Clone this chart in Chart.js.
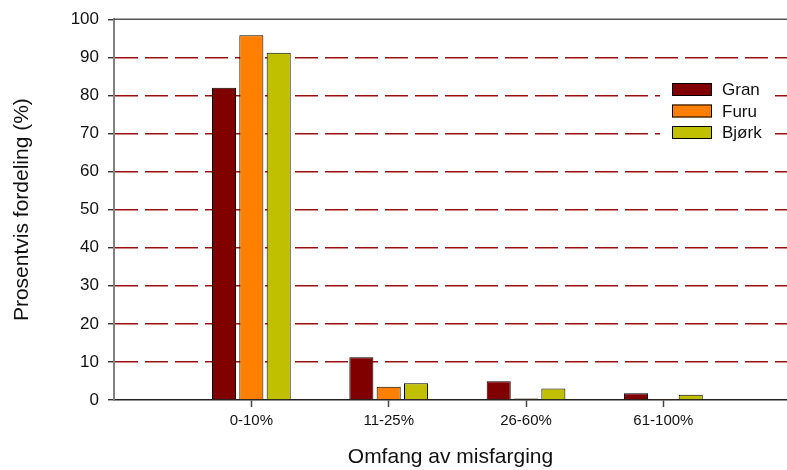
<!DOCTYPE html>
<html>
<head>
<meta charset="utf-8">
<script src="https://cdn.jsdelivr.net/npm/chart.js@4"></script>
<style>
html,body{margin:0;padding:0;background:#fff;overflow:hidden;}
canvas{display:block;}
</style>
</head>
<body>
<canvas id="c" width="787" height="470"></canvas>
<script>
const categories = ['0-10%', '11-25%', '26-60%', '61-100%'];
const seriesNames = ['Gran', 'Furu', 'Bjørk'];
const gran = [82, 11.2, 4.9, 1.8];
const furu = [95.8, 3.5, 0.4, 0.1];
const bjork = [91.2, 4.4, 3.0, 1.4];
const yTicks = [0, 10, 20, 30, 40, 50, 60, 70, 80, 90, 100];
const colors = ['#800000', '#FF8000', '#C0C000'];

const FONT = '"Liberation Sans", Arial, sans-serif';

function toPoints(arr) {
  return arr.map((v, i) => ({ x: i + 1, y: v }));
}

const datasets = [gran, furu, bjork].map((arr, k) => ({
  label: seriesNames[k],
  data: toPoints(arr),
  backgroundColor: colors[k],
  borderColor: '#000',
  borderWidth: 1,
  categoryPercentage: 0.597,
  barPercentage: 0.88
}));

const extras = {
  id: 'extras',
  afterDraw(chart) {
    const ctx = chart.ctx;
    const a = chart.chartArea;
    ctx.save();
    // top frame line
    ctx.strokeStyle = '#555';
    ctx.lineWidth = 1.5;
    ctx.beginPath();
    ctx.moveTo(a.left, a.top);
    ctx.lineTo(a.right, a.top);
    ctx.stroke();
    // legend
    const x0 = 672, y0 = 83, rowH = 21.5, bw = 40, bh = 13;
    ctx.fillStyle = '#fff';
    ctx.fillRect(660, y0 - 6, 113, rowH * 3 + 4);
    ctx.font = '17px ' + FONT;
    ctx.textBaseline = 'middle';
    ctx.textAlign = 'left';
    chart.data.datasets.forEach((ds, i) => {
      const y = y0 + i * rowH;
      ctx.fillStyle = ds.backgroundColor;
      ctx.fillRect(x0, y, bw, bh);
      ctx.strokeStyle = '#000';
      ctx.lineWidth = 1;
      ctx.strokeRect(x0 + 0.5, y + 0.5, bw - 1, bh - 1);
      ctx.fillStyle = '#111';
      ctx.fillText(ds.label, x0 + 50, y + bh / 2 + 1);
    });
    ctx.restore();
  }
};

new Chart(document.getElementById('c'), {
  type: 'bar',
  data: { datasets },
  options: {
    responsive: false,
    animation: false,
    devicePixelRatio: 1,
    layout: { padding: { left: 0, right: 0, top: 18, bottom: 0 } },
    plugins: { legend: { display: false }, tooltip: { enabled: false } },
    scales: {
      x: {
        type: 'linear',
        min: 0,
        max: 4.9,
        offset: false,
        afterBuildTicks: (s) => { s.ticks = categories.map((c, i) => ({ value: i + 1 })); },
        afterFit: (s) => { s.height = 70; },
        grid: { display: true, offset: false, drawOnChartArea: false, drawTicks: true, tickLength: 7, tickColor: '#444', tickWidth: 1.5, color: '#444' },
        border: { display: true, color: '#222', width: 1.5 },
        ticks: {
          padding: 5,
          color: '#111',
          font: { family: FONT, size: 15 },
          maxRotation: 0,
          autoSkip: false,
          callback: (v) => categories[Math.round(v) - 1] || ''
        },
        title: {
          display: true,
          text: 'Omfang av misfarging',
          color: '#111',
          font: { family: FONT, size: 21 },
          padding: { top: 0, bottom: 0 }
        }
      },
      y: {
        min: 0,
        max: 100,
        afterBuildTicks: (s) => { s.ticks = yTicks.map(v => ({ value: v })); },
        afterFit: (s) => { s.width = 114; },
        grid: {
          drawTicks: true,
          tickLength: 6,
          tickColor: '#333',
          lineWidth: 1.4,
          color: (c) => (c.tick && (c.tick.value === 0 || c.tick.value === 100)) ? 'rgba(0,0,0,0)' : '#9A1010'
        },
        border: { display: true, color: '#808080', width: 2, dash: [23, 7] },
        ticks: {
          padding: 9,
          color: '#111',
          font: { family: FONT, size: 17 },
          callback: (v) => String(v)
        },
        title: {
          display: true,
          text: 'Prosentvis fordeling (%)',
          color: '#111',
          font: { family: FONT, size: 21 },
          padding: { top: 10, bottom: 0 }
        }
      }
    }
  },
  plugins: [extras]
});
</script>
</body>
</html>
